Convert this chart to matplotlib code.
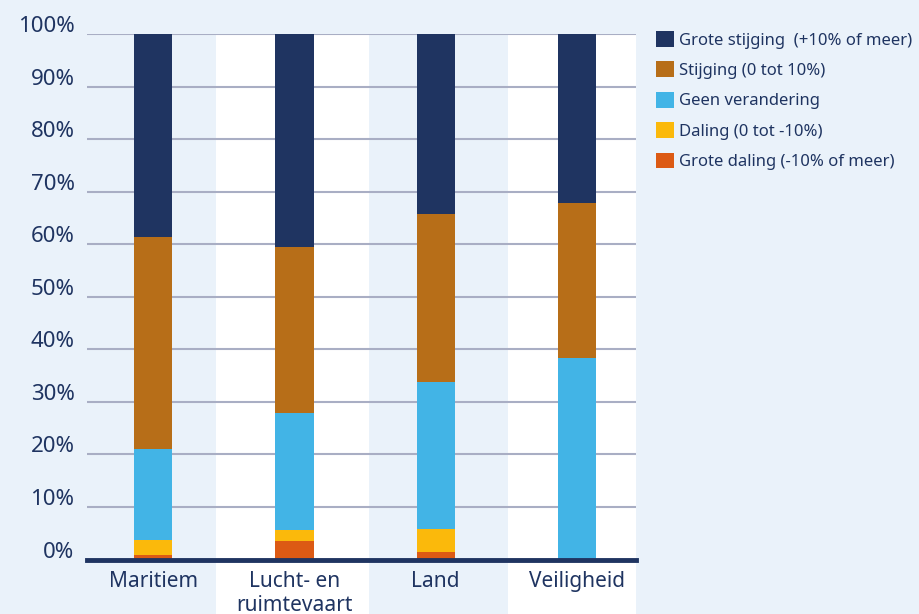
import matplotlib
matplotlib.use("Agg")
import matplotlib.pyplot as plt
from matplotlib.patches import Rectangle, Patch
from matplotlib.transforms import blended_transform_factory, ScaledTranslation
import numpy as np

categories = ["Maritiem", "Lucht- en\nruimtevaart", "Land", "Veiligheid"]
series_names = ["Grote daling (-10% of meer)", "Daling (0 tot -10%)", "Geen verandering",
                "Stijging (0 tot 10%)", "Grote stijging  (+10% of meer)"]
grote_daling = [0.9, 3.6, 1.4, 0.0]
daling = [2.8, 2.0, 4.4, 0.0]
geen_verandering = [17.3, 22.3, 28.0, 38.4]
stijging = [40.4, 31.6, 32.0, 29.5]
grote_stijging = [38.6, 40.5, 34.2, 32.1]
y_ticks = [0, 10, 20, 30, 40, 50, 60, 70, 80, 90, 100]
y_tick_labels = ["0%", "10%", "20%", "30%", "40%", "50%", "60%", "70%", "80%", "90%", "100%"]

colors = ["#DC5A14", "#FBB90B", "#42B4E6", "#B76E18", "#1F3461"]
navy = "#1F3461"
bg = "#EAF2FA"

plt.rcParams['font.family'] = ['Noto Sans', 'DejaVu Sans']

fig = plt.figure(figsize=(9.19, 6.14), dpi=100, facecolor=bg)
ax = fig.add_axes([87/919, 54.5/614, 549/919, 525.5/614])
ax.set_facecolor("none")

x = np.arange(len(categories))
ax.set_xlim(-0.47, 3.42)
ax.set_ylim(0, 100)

# white background bands
trans = blended_transform_factory(ax.transData, fig.transFigure)
for (x0, x1) in [(0.447, 1.53), (2.51, 3.42)]:
    r = Rectangle((x0, 0), x1 - x0, 580/614, transform=trans, facecolor="white",
                  edgecolor="none", zorder=0, clip_on=False)
    ax.add_patch(r)

data = [grote_daling, daling, geen_verandering, stijging, grote_stijging]
bottom = np.zeros(len(categories))
for vals, c, name in zip(data, colors, series_names):
    ax.bar(x, vals, width=0.27, bottom=bottom, color=c, label=name, zorder=2)
    bottom += np.array(vals)

ax.set_yticks(y_ticks)
ax.set_yticklabels(y_tick_labels)
ax.grid(axis="y", color="#A9AEC4", linewidth=1.5)
ax.set_axisbelow(True)
ax.tick_params(axis="y", length=0, pad=9, labelsize=16, labelcolor=navy)
off = ScaledTranslation(0, 2/100, fig.dpi_scale_trans)
for lab in ax.get_yticklabels():
    lab.set_verticalalignment("baseline")
    lab.set_transform(lab.get_transform() + off)
ax.set_xticks(x)
ax.set_xticklabels(categories, linespacing=1.2)
ax.tick_params(axis="x", length=0, pad=8, labelsize=15, labelcolor=navy)
for s in ax.spines.values():
    s.set_visible(False)
ax.axhline(0, color=navy, linewidth=3.5, zorder=3, clip_on=False)

handles = [Patch(facecolor=c) for c in colors[::-1]]
leg = fig.legend(handles, series_names[::-1], loc="upper left",
                 bbox_to_anchor=(656/919, 1 - 31/614), frameon=False,
                 fontsize=12, handlelength=1.08, handleheight=1.08,
                 labelspacing=0.77, handletextpad=0.3, borderaxespad=0, borderpad=0)
for t in leg.get_texts():
    t.set_color(navy)

fig.savefig("out.png", dpi=100, facecolor=bg)
